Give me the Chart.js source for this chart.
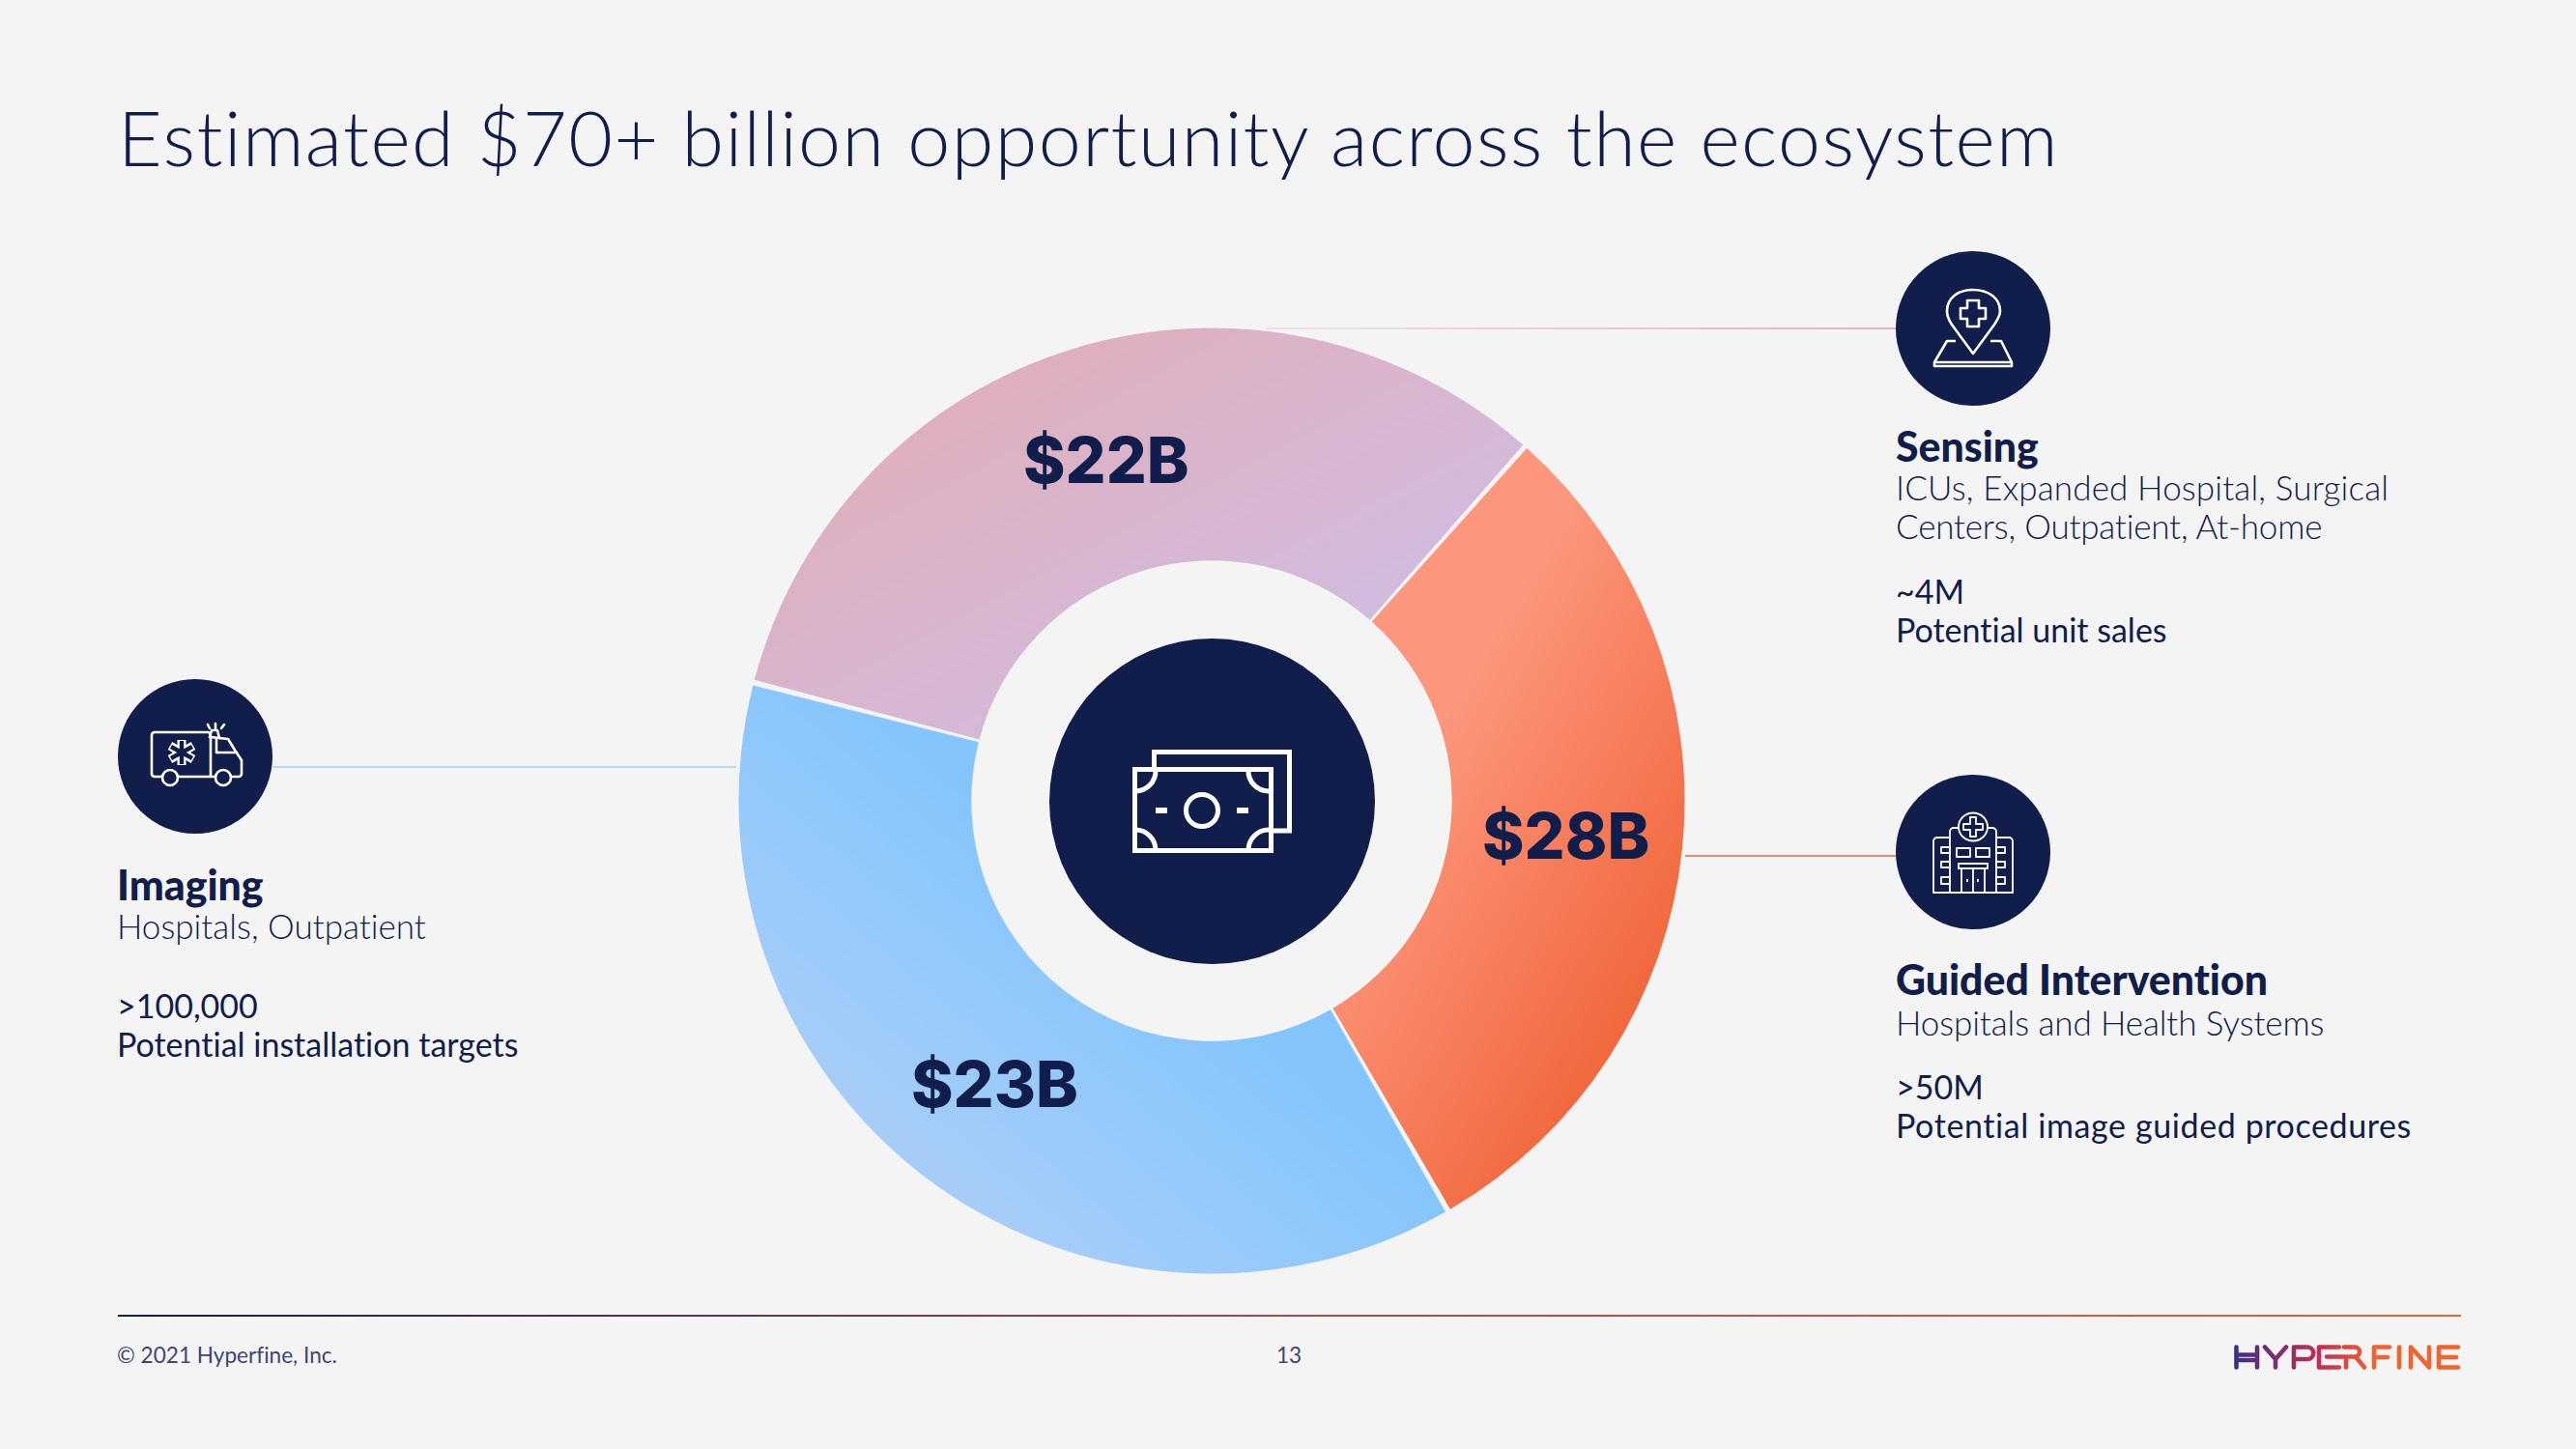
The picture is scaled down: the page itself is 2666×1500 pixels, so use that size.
<!DOCTYPE html>
<html><head><meta charset="utf-8">
<script src="https://cdn.jsdelivr.net/npm/chart.js@4"></script>
<style>
html,body{margin:0;padding:0;background:#f4f4f4;}
#page{position:relative;width:2666px;height:1500px;overflow:hidden;background:#f4f4f4;color:#111d4a;font-family:Lato,sans-serif;font-variant-ligatures:none;}
#page>*{position:absolute;}
.t{white-space:nowrap;line-height:1;}
#title{left:122px;top:102px;font-size:79px;font-weight:300;letter-spacing:1.4px;}
.h{font-size:42.800px;font-weight:900;}
.s{font-size:35px;font-weight:300;line-height:40px;}
.m{font-size:34px;font-weight:400;line-height:40px;}
.v{font-size:66px;font-weight:800;font-family:Inter,sans-serif;letter-spacing:0;}
.c{width:160px;height:160px;border-radius:50%;background:#111d4a;}
svg{overflow:visible;}
.foot{font-size:22.600px;color:#3f466f;font-weight:400;}
</style></head><body>
<div id="page">
<div id="title" class="t">Estimated $70+ billion opportunity across the ecosystem</div>

<div style="left:1310px;top:339px;width:653px;height:2px;background:linear-gradient(90deg,#f0dfe4,#e0b4c4)"></div>
<div style="left:282px;top:793px;width:480px;height:2px;background:#bcd9f2"></div>
<div style="left:1744px;top:885px;width:219px;height:2px;background:#e98a68"></div>

<canvas id="c" width="1000" height="1000" style="left:754px;top:329px;width:1000px;height:1000px"></canvas>

<div class="c" style="left:1086px;top:660.5px;width:337px;height:337px"></div>
<svg style="left:1086px;top:660px" width="337" height="337" viewBox="1086 660 337 337" fill="none" stroke="#fff" stroke-width="5">
<rect x="1174.5" y="796.5" width="141" height="84"/>
<path d="M1194.500 796V778.500H1334.500V860H1316"/>
<path d="M1196 797a21 21 0 0 1-21 22M1292 797a21 21 0 0 0 21 22M1175 859a21 21 0 0 1 21 21M1313 859a21 21 0 0 0-21 21"/>
<circle cx="1244" cy="839" r="16.500"/>
<path d="M1196 839h12M1280 839h12" stroke-width="6"/>
</svg>

<div class="c" style="left:1962px;top:260px"></div>
<svg style="left:1962px;top:260px" width="160" height="160" viewBox="1962 260 160 160" fill="none" stroke="#fff" stroke-width="2.600" stroke-linejoin="round">
<path d="M2024 353H2015L2002 375V379H2082V375L2071 353H2060M2002 375H2082"/>
<path d="M2042 366L2020 336C2016 330 2015 326 2015 322C2015 308 2027 300 2042 300C2057 300 2070 308 2070 322C2070 326 2068 330 2064 336Z"/>
<path d="M2036 311h12v8h7v11h-7v8h-12v-8h-7v-11h7z"/>
</svg>

<div class="c" style="left:122px;top:703px"></div>
<svg style="left:122px;top:703px" width="160" height="160" viewBox="122 703 160 160" fill="none" stroke="#fff" stroke-width="2.600" stroke-linejoin="round" stroke-linecap="round">
<path d="M167 804h-7a3 3 0 0 1-3-3v-40a3 3 0 0 1 3-3h55a3 3 0 0 1 3 3v43M185 804h36M241 804h6a3 3 0 0 0 3-3v-14l-6-9-8-13-18-2"/>
<path d="M224 765v14h21"/>
<circle cx="176" cy="805" r="8"/><circle cx="231" cy="805" r="8"/>
<path d="M217 763l2-7h6l2 8M223 749v5M215 750l2 4M232 750l-3 4"/>
<path d="M188 766v26M176 772l24 14M200 772l-24 14" stroke-width="9" stroke-linecap="butt"/>
<path d="M188 767v24M177 773l22 12M199 773l-22 12" stroke="#111d4a" stroke-width="4.400" stroke-linecap="butt"/>
</svg>

<div class="c" style="left:1962px;top:802px"></div>
<svg style="left:1962px;top:802px" width="160" height="160" viewBox="1962 802 160 160" fill="none" stroke="#fff" stroke-width="1.800" stroke-linejoin="round">
<ellipse cx="2042" cy="856" rx="15" ry="14.500"/>
<path d="M2039 846h6v7h7v6h-7v7h-6v-7h-7v-6h7z"/>
<path d="M2018 924V861a4 4 0 0 1 4-4h5M2057 857h5a4 4 0 0 1 4 4v63"/>
<path d="M2018 867H2005a4 4 0 0 0-4 4v53h82v-53a4 4 0 0 0-4-4H2066"/>
<rect x="2009" y="877" width="9" height="6"/><rect x="2009" y="892" width="9" height="6"/><rect x="2009" y="908" width="9" height="7"/>
<rect x="2066" y="877" width="9" height="6"/><rect x="2066" y="892" width="9" height="6"/><rect x="2066" y="908" width="9" height="7"/>
<rect x="2025" y="878" width="14" height="9"/><rect x="2045" y="878" width="14" height="9"/>
<rect x="2027" y="894" width="30" height="5"/>
<path d="M2030 899v25M2054 899v25M2042 899v25M2036 910v3M2047 910v3"/>
</svg>

<div class="t v" data-slice="0" style="left:1059px;top:443px"></div>
<div class="t v" data-slice="1" style="left:1534px;top:832px"></div>
<div class="t v" data-slice="2" style="left:943px;top:1089px"></div>

<div class="t h" data-cat="0" style="left:1962px;top:441px"></div>
<div class="t s" style="left:1962px;top:484px"><span style="letter-spacing:.15px">ICUs, Expanded Hospital, Surgical</span><br><span style="letter-spacing:-.2px">Centers, Outpatient, At-home</span></div>
<div class="t m" style="left:1962px;top:591.500px">~4M<br>Potential unit sales</div>

<div class="t h" data-cat="2" style="left:121px;top:894.500px"></div>
<div class="t s" style="left:121px;top:938px">Hospitals, Outpatient</div>
<div class="t m" style="left:121px;top:1020.500px">&gt;100,000<br>Potential installation targets</div>

<div class="t h" data-cat="1" style="left:1962px;top:992.500px"></div>
<div class="t s" style="left:1962px;top:1038px;letter-spacing:-.1px">Hospitals and Health Systems</div>
<div class="t m" style="left:1962px;top:1104.500px">&gt;50M<br><span style="letter-spacing:.6px">Potential image guided procedures</span></div>

<div style="left:122px;top:1361px;width:2425px;height:1.500px;background:linear-gradient(90deg,#151d4f 0%,#a24a55 50%,#e8623a 100%)"></div>
<div class="t foot" style="left:121px;top:1392px">© 2021 Hyperfine, Inc.</div>
<div class="t foot" style="left:1321px;top:1392px">13</div>
<svg style="left:2250px;top:1385px" width="300" height="40" viewBox="2250 1385 300 40" fill="none" stroke-width="4.600" stroke-linecap="round" stroke-linejoin="round">
<defs><linearGradient id="lg" gradientUnits="userSpaceOnUse" x1="2313" y1="0" x2="2546" y2="0"><stop offset="0" stop-color="#3a2f80"/><stop offset=".38" stop-color="#c22f55"/><stop offset=".62" stop-color="#f0652f"/><stop offset="1" stop-color="#f0652f"/></linearGradient></defs>
<path stroke="url(#lg)" d="M2314.500 1394.500v21M2336 1394.500v21M2314.500 1402.500h21.500M2314.500 1408h21.500M2344 1394.500l11 12.500 11-12.500M2355 1407v8.500M2374 1415.500v-21h14a6.200 6.200 0 0 1 0 12.500h-14M2421 1394.500h-21v21h21M2408 1404.500h29a5 5 0 0 0 0-10h-11M2428 1404.500v11M2438 1404.500l9 11M2457 1415.500v-21h16M2457 1405h14M2483 1394.500v21M2495 1415.500v-21l19 21v-21M2544 1394.500h-20v21h20M2524 1405h18"/>
</svg>
</div>
<script>
// Slice sizes are measured from the drawn ring (degrees); they are not proportional
// to the figures printed on the ring, so the two are kept apart.
const categories = ['Sensing', 'Guided Intervention', 'Imaging'];
const sliceDegrees = [117, 108.5, 134.5];
const valueLabels = ['$22B', '$28B', '$23B'];
const startAngle = -75.5;
const stops = [
  ['#e0aebb', '#d0bde2'],
  ['#fc967c', '#f1693f'],
  ['#a5cdf8', '#84c5fd']
];
const dirs = [[197,65,420,486],[690,500,960,660],[280,926,484,683]];
document.querySelectorAll('[data-slice]').forEach(el => { el.textContent = valueLabels[+el.dataset.slice]; });
document.querySelectorAll('[data-cat]').forEach(el => { el.textContent = categories[+el.dataset.cat]; });
Chart.defaults.animation = false;
new Chart(document.getElementById('c'), {
  type: 'doughnut',
  data: { labels: categories, datasets: [{
    data: sliceDegrees,
    borderWidth: 0,
    spacing: 4,
    backgroundColor(ctx) {
      const d = dirs[ctx.dataIndex];
      const g = ctx.chart.ctx.createLinearGradient(d[0], d[1], d[2], d[3]);
      g.addColorStop(0, stops[ctx.dataIndex][0]);
      g.addColorStop(1, stops[ctx.dataIndex][1]);
      return g;
    }
  }]},
  options: {
    responsive: false, rotation: startAngle, cutout: 252,
    radius: 487.5,
    plugins: { legend: {display:false}, tooltip:{enabled:false} },
    layout: { padding: 0 }
  }
});
</script>
</body></html>
